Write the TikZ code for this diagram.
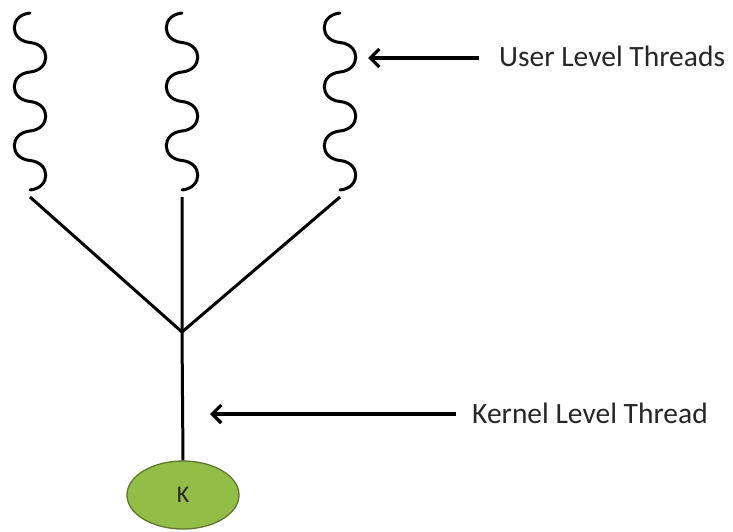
\documentclass[tikz,border=0pt]{standalone}
\usepackage{fontspec}
\setmainfont{Carlito}
\usetikzlibrary{arrows.meta,shapes.geometric}

\definecolor{kfill}{RGB}{146,190,72}
\definecolor{kdraw}{RGB}{96,120,44}
\definecolor{labeltext}{RGB}{38,38,38}

\tikzset{
  wave/.style={line width=3pt, line cap=round, black},
  link/.style={line width=3pt, black},
  pointer/.style={line width=3.3pt, black, -{Straight Barb[length=9pt,width=18pt]}},
  label/.style={font=\fontsize{29.5}{32}\selectfont, text=labeltext, inner sep=0pt, anchor=base west},
  kernel/.style={ellipse, fill=kfill, draw=kdraw, line width=1.3pt,
    minimum width=112pt, minimum height=68pt, inner sep=0pt,
    font=\fontsize{24}{26}\selectfont, text=labeltext}
}

% a user thread: six half waves hanging below (x, 13)
\newcommand\userthread[2]{%
  \draw[wave] (#1,13)
    \foreach \i [evaluate=\i as \ya using {13+29.5*\i},
                 evaluate=\i as \yb using {13+29.5*(\i+1)},
                 evaluate=\i as \xc using {#1+21*(2*mod(\i,2)-1)}]
      in {0,...,5} { .. controls (\xc,\ya+2) and (\xc,\yb-2) .. (#1,\yb) };
  \coordinate (#2) at (#1,197);
}

\begin{document}
\begin{tikzpicture}[x=1pt,y=-1pt]
  \useasboundingbox (0,0) rectangle (733,531);

  \userthread{30}{u1}
  \userthread{182}{u2}
  \userthread{340}{u3}

  \coordinate (join) at (182,332);
  \node[kernel] (k) at (183,495) {K};

  \draw[link] (u1) -- (join);
  \draw[link] (u3) -- (join);
  \draw[link] (u2) -- (join) -- (k.north);

  % labels with their pointers
  \node[label] (ult) at (499,66) {User Level Threads};
  \node[label] (klt) at (472,423) {Kernel Level Thread};
  \coordinate (ultfrom) at (479,58);
  \coordinate (ultto) at (368,58);
  \coordinate (kltfrom) at (456,414);
  \coordinate (kltto) at (210,414);
  \draw[pointer] (ultfrom) -- (ultto);
  \draw[pointer] (kltfrom) -- (kltto);
\end{tikzpicture}
\end{document}
